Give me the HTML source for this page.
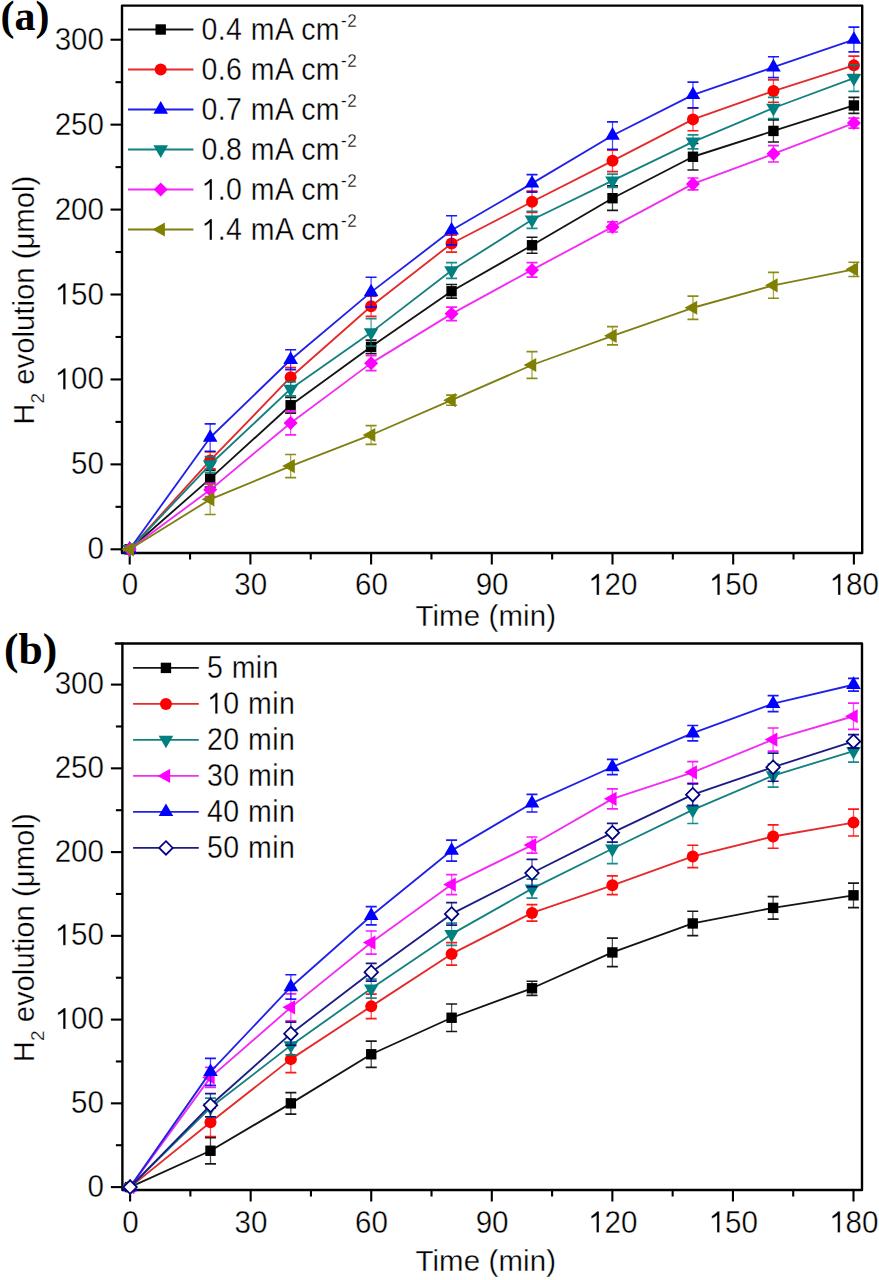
<!DOCTYPE html>
<html><head><meta charset="utf-8"><style>
html,body{margin:0;padding:0;background:#fff;}
svg{display:block;}
.tk{font-family:"Liberation Sans",sans-serif;font-size:29px;fill:#000;stroke:#fff;stroke-width:0.35px;}
.ti{font-family:"Liberation Sans",sans-serif;font-size:29.4px;letter-spacing:0.15px;fill:#000;stroke:#fff;stroke-width:0.3px;}
.yt{letter-spacing:0px;font-size:29.3px;}
.sub{font-size:19px;}
.sup{font-size:17px;letter-spacing:0.5px;}
.lg{font-family:"Liberation Sans",sans-serif;font-size:28.5px;letter-spacing:0.45px;fill:#000;stroke:#fff;stroke-width:0.3px;}
.lab{font-family:"Liberation Serif",serif;font-size:42px;font-weight:bold;fill:#000;}
</style></head><body>
<svg width="879" height="1280" viewBox="0 0 879 1280">
<rect width="879" height="1280" fill="#fff"/>
<rect x="122.00" y="5.60" width="740.20" height="547.40" fill="none" stroke="#000" stroke-width="2.4" stroke-linejoin="round"/>
<line x1="129.70" y1="553.00" x2="129.70" y2="564.50" stroke="#000" stroke-width="2.1"/>
<g transform="translate(130.00,595.00) scale(1.02,1.06)"><text x="-8.064" y="0" class="tk">0</text></g>
<line x1="250.40" y1="553.00" x2="250.40" y2="564.50" stroke="#000" stroke-width="2.1"/>
<g transform="translate(250.70,595.00) scale(1.02,1.06)"><text x="-16.128" y="0" class="tk">30</text></g>
<line x1="371.10" y1="553.00" x2="371.10" y2="564.50" stroke="#000" stroke-width="2.1"/>
<g transform="translate(371.40,595.00) scale(1.02,1.06)"><text x="-16.128" y="0" class="tk">60</text></g>
<line x1="491.80" y1="553.00" x2="491.80" y2="564.50" stroke="#000" stroke-width="2.1"/>
<g transform="translate(492.10,595.00) scale(1.02,1.06)"><text x="-16.128" y="0" class="tk">90</text></g>
<line x1="612.50" y1="553.00" x2="612.50" y2="564.50" stroke="#000" stroke-width="2.1"/>
<g transform="translate(612.80,595.00) scale(1.02,1.06)"><text x="-24.193" y="0" class="tk"> 20</text><path transform="translate(-24.193,0) scale(0.01416,-0.01416)" d="M763 0L583 0L583 1147Q518 1085 412 1023Q306 961 223 930L223 1104Q373 1175 485 1276Q597 1377 644 1409L763 1409Z" fill="#000" stroke="#fff" stroke-width="24.7"/></g>
<line x1="733.19" y1="553.00" x2="733.19" y2="564.50" stroke="#000" stroke-width="2.1"/>
<g transform="translate(733.49,595.00) scale(1.02,1.06)"><text x="-24.193" y="0" class="tk"> 50</text><path transform="translate(-24.193,0) scale(0.01416,-0.01416)" d="M763 0L583 0L583 1147Q518 1085 412 1023Q306 961 223 930L223 1104Q373 1175 485 1276Q597 1377 644 1409L763 1409Z" fill="#000" stroke="#fff" stroke-width="24.7"/></g>
<line x1="853.89" y1="553.00" x2="853.89" y2="564.50" stroke="#000" stroke-width="2.1"/>
<g transform="translate(854.19,595.00) scale(1.02,1.06)"><text x="-24.193" y="0" class="tk"> 80</text><path transform="translate(-24.193,0) scale(0.01416,-0.01416)" d="M763 0L583 0L583 1147Q518 1085 412 1023Q306 961 223 930L223 1104Q373 1175 485 1276Q597 1377 644 1409L763 1409Z" fill="#000" stroke="#fff" stroke-width="24.7"/></g>
<line x1="190.05" y1="553.00" x2="190.05" y2="559.50" stroke="#000" stroke-width="2.1"/>
<line x1="310.75" y1="553.00" x2="310.75" y2="559.50" stroke="#000" stroke-width="2.1"/>
<line x1="431.45" y1="553.00" x2="431.45" y2="559.50" stroke="#000" stroke-width="2.1"/>
<line x1="552.15" y1="553.00" x2="552.15" y2="559.50" stroke="#000" stroke-width="2.1"/>
<line x1="672.85" y1="553.00" x2="672.85" y2="559.50" stroke="#000" stroke-width="2.1"/>
<line x1="793.54" y1="553.00" x2="793.54" y2="559.50" stroke="#000" stroke-width="2.1"/>
<line x1="122.00" y1="549.30" x2="110.50" y2="549.30" stroke="#000" stroke-width="2.1"/>
<g transform="translate(104.00,559.30) scale(1.02,1.06)"><text x="-16.128" y="0" class="tk">0</text></g>
<line x1="122.00" y1="464.37" x2="110.50" y2="464.37" stroke="#000" stroke-width="2.1"/>
<g transform="translate(104.00,474.37) scale(1.02,1.06)"><text x="-32.257" y="0" class="tk">50</text></g>
<line x1="122.00" y1="379.44" x2="110.50" y2="379.44" stroke="#000" stroke-width="2.1"/>
<g transform="translate(104.00,389.44) scale(1.02,1.06)"><text x="-48.385" y="0" class="tk"> 00</text><path transform="translate(-48.385,0) scale(0.01416,-0.01416)" d="M763 0L583 0L583 1147Q518 1085 412 1023Q306 961 223 930L223 1104Q373 1175 485 1276Q597 1377 644 1409L763 1409Z" fill="#000" stroke="#fff" stroke-width="24.7"/></g>
<line x1="122.00" y1="294.51" x2="110.50" y2="294.51" stroke="#000" stroke-width="2.1"/>
<g transform="translate(104.00,304.51) scale(1.02,1.06)"><text x="-48.385" y="0" class="tk"> 50</text><path transform="translate(-48.385,0) scale(0.01416,-0.01416)" d="M763 0L583 0L583 1147Q518 1085 412 1023Q306 961 223 930L223 1104Q373 1175 485 1276Q597 1377 644 1409L763 1409Z" fill="#000" stroke="#fff" stroke-width="24.7"/></g>
<line x1="122.00" y1="209.58" x2="110.50" y2="209.58" stroke="#000" stroke-width="2.1"/>
<g transform="translate(104.00,219.58) scale(1.02,1.06)"><text x="-48.385" y="0" class="tk">200</text></g>
<line x1="122.00" y1="124.65" x2="110.50" y2="124.65" stroke="#000" stroke-width="2.1"/>
<g transform="translate(104.00,134.65) scale(1.02,1.06)"><text x="-48.385" y="0" class="tk">250</text></g>
<line x1="122.00" y1="39.72" x2="110.50" y2="39.72" stroke="#000" stroke-width="2.1"/>
<g transform="translate(104.00,49.72) scale(1.02,1.06)"><text x="-48.385" y="0" class="tk">300</text></g>
<line x1="122.00" y1="506.83" x2="115.50" y2="506.83" stroke="#000" stroke-width="2.1"/>
<line x1="122.00" y1="421.90" x2="115.50" y2="421.90" stroke="#000" stroke-width="2.1"/>
<line x1="122.00" y1="336.97" x2="115.50" y2="336.97" stroke="#000" stroke-width="2.1"/>
<line x1="122.00" y1="252.04" x2="115.50" y2="252.04" stroke="#000" stroke-width="2.1"/>
<line x1="122.00" y1="167.11" x2="115.50" y2="167.11" stroke="#000" stroke-width="2.1"/>
<line x1="122.00" y1="82.18" x2="115.50" y2="82.18" stroke="#000" stroke-width="2.1"/>
<text x="485.8" y="625.50" class="ti" text-anchor="middle">Time (min)</text>
<text transform="translate(33.60,300.20) rotate(-90)" class="ti yt" text-anchor="middle">H<tspan class="sub" dy="10.5">2</tspan><tspan dy="-10.5"> evolution (μmol)</tspan></text>
<text x="0.50" y="30.00" class="lab" style="font-size:42px">(a)</text>
<polyline points="129.70,549.30 210.17,478.64 290.63,405.26 371.10,346.83 451.56,291.28 532.03,245.25 612.50,198.20 692.96,156.75 773.43,130.93 853.89,105.46" fill="none" stroke="#141414" stroke-width="1.85" stroke-linejoin="round"/>
<path d="M210.17 470.15V487.13" stroke="#000000" stroke-width="1.3" stroke-opacity="0.7" fill="none"/>
<path d="M204.67 470.15H215.67M204.67 487.13H215.67" stroke="#000000" stroke-width="1.7" stroke-opacity="0.9" fill="none"/>
<path d="M290.63 397.45V413.07" stroke="#000000" stroke-width="1.3" stroke-opacity="0.7" fill="none"/>
<path d="M285.13 397.45H296.13M285.13 413.07H296.13" stroke="#000000" stroke-width="1.7" stroke-opacity="0.9" fill="none"/>
<path d="M371.10 340.03V353.62" stroke="#000000" stroke-width="1.3" stroke-opacity="0.7" fill="none"/>
<path d="M365.60 340.03H376.60M365.60 353.62H376.60" stroke="#000000" stroke-width="1.7" stroke-opacity="0.9" fill="none"/>
<path d="M451.56 284.49V298.08" stroke="#000000" stroke-width="1.3" stroke-opacity="0.7" fill="none"/>
<path d="M446.06 284.49H457.06M446.06 298.08H457.06" stroke="#000000" stroke-width="1.7" stroke-opacity="0.9" fill="none"/>
<path d="M532.03 237.27V253.23" stroke="#000000" stroke-width="1.3" stroke-opacity="0.7" fill="none"/>
<path d="M526.53 237.27H537.53M526.53 253.23H537.53" stroke="#000000" stroke-width="1.7" stroke-opacity="0.9" fill="none"/>
<path d="M612.50 185.97V210.43" stroke="#000000" stroke-width="1.3" stroke-opacity="0.7" fill="none"/>
<path d="M607.00 185.97H618.00M607.00 210.43H618.00" stroke="#000000" stroke-width="1.7" stroke-opacity="0.9" fill="none"/>
<path d="M692.96 143.50V170.00" stroke="#000000" stroke-width="1.3" stroke-opacity="0.7" fill="none"/>
<path d="M687.46 143.50H698.46M687.46 170.00H698.46" stroke="#000000" stroke-width="1.7" stroke-opacity="0.9" fill="none"/>
<path d="M773.43 119.89V141.98" stroke="#000000" stroke-width="1.3" stroke-opacity="0.7" fill="none"/>
<path d="M767.93 119.89H778.93M767.93 141.98H778.93" stroke="#000000" stroke-width="1.7" stroke-opacity="0.9" fill="none"/>
<path d="M853.89 97.47V113.44" stroke="#000000" stroke-width="1.3" stroke-opacity="0.7" fill="none"/>
<path d="M848.39 97.47H859.39M848.39 113.44H859.39" stroke="#000000" stroke-width="1.7" stroke-opacity="0.9" fill="none"/>
<rect x="124.50" y="544.10" width="10.40" height="10.40" fill="#000000"/>
<rect x="204.97" y="473.44" width="10.40" height="10.40" fill="#000000"/>
<rect x="285.43" y="400.06" width="10.40" height="10.40" fill="#000000"/>
<rect x="365.90" y="341.63" width="10.40" height="10.40" fill="#000000"/>
<rect x="446.36" y="286.08" width="10.40" height="10.40" fill="#000000"/>
<rect x="526.83" y="240.05" width="10.40" height="10.40" fill="#000000"/>
<rect x="607.30" y="193.00" width="10.40" height="10.40" fill="#000000"/>
<rect x="687.76" y="151.55" width="10.40" height="10.40" fill="#000000"/>
<rect x="768.23" y="125.73" width="10.40" height="10.40" fill="#000000"/>
<rect x="848.69" y="100.26" width="10.40" height="10.40" fill="#000000"/>
<polyline points="129.70,549.30 210.17,460.46 290.63,377.23 371.10,306.23 451.56,243.55 532.03,201.77 612.50,160.83 692.96,119.38 773.43,91.02 853.89,65.37" fill="none" stroke="#e42a2a" stroke-width="1.85" stroke-linejoin="round"/>
<path d="M210.17 451.97V468.96" stroke="#ff0000" stroke-width="1.3" stroke-opacity="0.7" fill="none"/>
<path d="M204.67 451.97H215.67M204.67 468.96H215.67" stroke="#ff0000" stroke-width="1.7" stroke-opacity="0.9" fill="none"/>
<path d="M290.63 367.55V386.91" stroke="#ff0000" stroke-width="1.3" stroke-opacity="0.7" fill="none"/>
<path d="M285.13 367.55H296.13M285.13 386.91H296.13" stroke="#ff0000" stroke-width="1.7" stroke-opacity="0.9" fill="none"/>
<path d="M371.10 296.04V316.42" stroke="#ff0000" stroke-width="1.3" stroke-opacity="0.7" fill="none"/>
<path d="M365.60 296.04H376.60M365.60 316.42H376.60" stroke="#ff0000" stroke-width="1.7" stroke-opacity="0.9" fill="none"/>
<path d="M451.56 235.06V252.04" stroke="#ff0000" stroke-width="1.3" stroke-opacity="0.7" fill="none"/>
<path d="M446.06 235.06H457.06M446.06 252.04H457.06" stroke="#ff0000" stroke-width="1.7" stroke-opacity="0.9" fill="none"/>
<path d="M532.03 191.07V212.47" stroke="#ff0000" stroke-width="1.3" stroke-opacity="0.7" fill="none"/>
<path d="M526.53 191.07H537.53M526.53 212.47H537.53" stroke="#ff0000" stroke-width="1.7" stroke-opacity="0.9" fill="none"/>
<path d="M612.50 150.13V171.53" stroke="#ff0000" stroke-width="1.3" stroke-opacity="0.7" fill="none"/>
<path d="M607.00 150.13H618.00M607.00 171.53H618.00" stroke="#ff0000" stroke-width="1.7" stroke-opacity="0.9" fill="none"/>
<path d="M692.96 108.00V130.76" stroke="#ff0000" stroke-width="1.3" stroke-opacity="0.7" fill="none"/>
<path d="M687.46 108.00H698.46M687.46 130.76H698.46" stroke="#ff0000" stroke-width="1.7" stroke-opacity="0.9" fill="none"/>
<path d="M773.43 79.81V102.23" stroke="#ff0000" stroke-width="1.3" stroke-opacity="0.7" fill="none"/>
<path d="M767.93 79.81H778.93M767.93 102.23H778.93" stroke="#ff0000" stroke-width="1.7" stroke-opacity="0.9" fill="none"/>
<path d="M853.89 56.03V74.71" stroke="#ff0000" stroke-width="1.3" stroke-opacity="0.7" fill="none"/>
<path d="M848.39 56.03H859.39M848.39 74.71H859.39" stroke="#ff0000" stroke-width="1.7" stroke-opacity="0.9" fill="none"/>
<circle cx="129.70" cy="549.30" r="6.00" fill="#ff0000"/>
<circle cx="210.17" cy="460.46" r="6.00" fill="#ff0000"/>
<circle cx="290.63" cy="377.23" r="6.00" fill="#ff0000"/>
<circle cx="371.10" cy="306.23" r="6.00" fill="#ff0000"/>
<circle cx="451.56" cy="243.55" r="6.00" fill="#ff0000"/>
<circle cx="532.03" cy="201.77" r="6.00" fill="#ff0000"/>
<circle cx="612.50" cy="160.83" r="6.00" fill="#ff0000"/>
<circle cx="692.96" cy="119.38" r="6.00" fill="#ff0000"/>
<circle cx="773.43" cy="91.02" r="6.00" fill="#ff0000"/>
<circle cx="853.89" cy="65.37" r="6.00" fill="#ff0000"/>
<polyline points="129.70,549.30 210.17,437.53 290.63,359.74 371.10,292.13 451.56,230.30 532.03,183.42 612.50,135.52 692.96,94.92 773.43,67.24 853.89,39.55" fill="none" stroke="#2222e6" stroke-width="1.85" stroke-linejoin="round"/>
<path d="M210.17 423.82V451.24" stroke="#0000ff" stroke-width="1.3" stroke-opacity="0.7" fill="none"/>
<path d="M204.67 423.82H215.67M204.67 451.24H215.67" stroke="#0000ff" stroke-width="1.7" stroke-opacity="0.9" fill="none"/>
<path d="M290.63 349.77V369.71" stroke="#0000ff" stroke-width="1.3" stroke-opacity="0.7" fill="none"/>
<path d="M285.13 349.77H296.13M285.13 369.71H296.13" stroke="#0000ff" stroke-width="1.7" stroke-opacity="0.9" fill="none"/>
<path d="M371.10 277.24V307.03" stroke="#0000ff" stroke-width="1.3" stroke-opacity="0.7" fill="none"/>
<path d="M365.60 277.24H376.60M365.60 307.03H376.60" stroke="#0000ff" stroke-width="1.7" stroke-opacity="0.9" fill="none"/>
<path d="M451.56 215.75V244.86" stroke="#0000ff" stroke-width="1.3" stroke-opacity="0.7" fill="none"/>
<path d="M446.06 215.75H457.06M446.06 244.86H457.06" stroke="#0000ff" stroke-width="1.7" stroke-opacity="0.9" fill="none"/>
<path d="M532.03 174.64V192.20" stroke="#0000ff" stroke-width="1.3" stroke-opacity="0.7" fill="none"/>
<path d="M526.53 174.64H537.53M526.53 192.20H537.53" stroke="#0000ff" stroke-width="1.7" stroke-opacity="0.9" fill="none"/>
<path d="M612.50 121.81V149.23" stroke="#0000ff" stroke-width="1.3" stroke-opacity="0.7" fill="none"/>
<path d="M607.00 121.81H618.00M607.00 149.23H618.00" stroke="#0000ff" stroke-width="1.7" stroke-opacity="0.9" fill="none"/>
<path d="M692.96 82.07V107.78" stroke="#0000ff" stroke-width="1.3" stroke-opacity="0.7" fill="none"/>
<path d="M687.46 82.07H698.46M687.46 107.78H698.46" stroke="#0000ff" stroke-width="1.7" stroke-opacity="0.9" fill="none"/>
<path d="M773.43 56.76V77.72" stroke="#0000ff" stroke-width="1.3" stroke-opacity="0.7" fill="none"/>
<path d="M767.93 56.76H778.93M767.93 77.72H778.93" stroke="#0000ff" stroke-width="1.7" stroke-opacity="0.9" fill="none"/>
<path d="M853.89 27.20V51.90" stroke="#0000ff" stroke-width="1.3" stroke-opacity="0.7" fill="none"/>
<path d="M848.39 27.20H859.39M848.39 51.90H859.39" stroke="#0000ff" stroke-width="1.7" stroke-opacity="0.9" fill="none"/>
<polygon points="122.40,553.50 137.00,553.50 129.70,540.90" fill="#0000ff"/>
<polygon points="202.87,441.73 217.47,441.73 210.17,429.13" fill="#0000ff"/>
<polygon points="283.33,363.94 297.93,363.94 290.63,351.34" fill="#0000ff"/>
<polygon points="363.80,296.33 378.40,296.33 371.10,283.73" fill="#0000ff"/>
<polygon points="444.26,234.50 458.86,234.50 451.56,221.90" fill="#0000ff"/>
<polygon points="524.73,187.62 539.33,187.62 532.03,175.02" fill="#0000ff"/>
<polygon points="605.20,139.72 619.80,139.72 612.50,127.12" fill="#0000ff"/>
<polygon points="685.66,99.12 700.26,99.12 692.96,86.52" fill="#0000ff"/>
<polygon points="766.13,71.44 780.73,71.44 773.43,58.84" fill="#0000ff"/>
<polygon points="846.59,43.75 861.19,43.75 853.89,31.15" fill="#0000ff"/>
<polyline points="129.70,549.30 210.17,464.54 290.63,388.95 371.10,332.39 451.56,270.56 532.03,219.77 612.50,180.70 692.96,141.81 773.43,108.00 853.89,78.11" fill="none" stroke="#148080" stroke-width="1.85" stroke-linejoin="round"/>
<path d="M210.17 456.68V472.40" stroke="#008080" stroke-width="1.3" stroke-opacity="0.7" fill="none"/>
<path d="M204.67 456.68H215.67M204.67 472.40H215.67" stroke="#008080" stroke-width="1.7" stroke-opacity="0.9" fill="none"/>
<path d="M290.63 381.94V395.97" stroke="#008080" stroke-width="1.3" stroke-opacity="0.7" fill="none"/>
<path d="M285.13 381.94H296.13M285.13 395.97H296.13" stroke="#008080" stroke-width="1.7" stroke-opacity="0.9" fill="none"/>
<path d="M371.10 318.58V346.20" stroke="#008080" stroke-width="1.3" stroke-opacity="0.7" fill="none"/>
<path d="M365.60 318.58H376.60M365.60 346.20H376.60" stroke="#008080" stroke-width="1.7" stroke-opacity="0.9" fill="none"/>
<path d="M451.56 262.70V278.42" stroke="#008080" stroke-width="1.3" stroke-opacity="0.7" fill="none"/>
<path d="M446.06 262.70H457.06M446.06 278.42H457.06" stroke="#008080" stroke-width="1.7" stroke-opacity="0.9" fill="none"/>
<path d="M532.03 211.23V228.32" stroke="#008080" stroke-width="1.3" stroke-opacity="0.7" fill="none"/>
<path d="M526.53 211.23H537.53M526.53 228.32H537.53" stroke="#008080" stroke-width="1.7" stroke-opacity="0.9" fill="none"/>
<path d="M612.50 174.03V187.38" stroke="#008080" stroke-width="1.3" stroke-opacity="0.7" fill="none"/>
<path d="M607.00 174.03H618.00M607.00 187.38H618.00" stroke="#008080" stroke-width="1.7" stroke-opacity="0.9" fill="none"/>
<path d="M692.96 134.79V148.82" stroke="#008080" stroke-width="1.3" stroke-opacity="0.7" fill="none"/>
<path d="M687.46 134.79H698.46M687.46 148.82H698.46" stroke="#008080" stroke-width="1.7" stroke-opacity="0.9" fill="none"/>
<path d="M773.43 97.42V118.59" stroke="#008080" stroke-width="1.3" stroke-opacity="0.7" fill="none"/>
<path d="M767.93 97.42H778.93M767.93 118.59H778.93" stroke="#008080" stroke-width="1.7" stroke-opacity="0.9" fill="none"/>
<path d="M853.89 64.81V91.41" stroke="#008080" stroke-width="1.3" stroke-opacity="0.7" fill="none"/>
<path d="M848.39 64.81H859.39M848.39 91.41H859.39" stroke="#008080" stroke-width="1.7" stroke-opacity="0.9" fill="none"/>
<polygon points="122.40,545.10 137.00,545.10 129.70,557.70" fill="#008080"/>
<polygon points="202.87,460.34 217.47,460.34 210.17,472.94" fill="#008080"/>
<polygon points="283.33,384.75 297.93,384.75 290.63,397.35" fill="#008080"/>
<polygon points="363.80,328.19 378.40,328.19 371.10,340.79" fill="#008080"/>
<polygon points="444.26,266.36 458.86,266.36 451.56,278.96" fill="#008080"/>
<polygon points="524.73,215.57 539.33,215.57 532.03,228.17" fill="#008080"/>
<polygon points="605.20,176.50 619.80,176.50 612.50,189.10" fill="#008080"/>
<polygon points="685.66,137.61 700.26,137.61 692.96,150.21" fill="#008080"/>
<polygon points="766.13,103.80 780.73,103.80 773.43,116.40" fill="#008080"/>
<polygon points="846.59,73.91 861.19,73.91 853.89,86.51" fill="#008080"/>
<polyline points="129.70,549.30 210.17,489.85 290.63,422.92 371.10,363.13 451.56,313.87 532.03,269.88 612.50,226.91 692.96,183.93 773.43,153.87 853.89,123.12" fill="none" stroke="#f22cf2" stroke-width="1.85" stroke-linejoin="round"/>
<path d="M210.17 483.05V496.64" stroke="#ff00ff" stroke-width="1.3" stroke-opacity="0.7" fill="none"/>
<path d="M204.67 483.05H215.67M204.67 496.64H215.67" stroke="#ff00ff" stroke-width="1.7" stroke-opacity="0.9" fill="none"/>
<path d="M290.63 411.03V434.81" stroke="#ff00ff" stroke-width="1.3" stroke-opacity="0.7" fill="none"/>
<path d="M285.13 411.03H296.13M285.13 434.81H296.13" stroke="#ff00ff" stroke-width="1.7" stroke-opacity="0.9" fill="none"/>
<path d="M371.10 355.66V370.61" stroke="#ff00ff" stroke-width="1.3" stroke-opacity="0.7" fill="none"/>
<path d="M365.60 355.66H376.60M365.60 370.61H376.60" stroke="#ff00ff" stroke-width="1.7" stroke-opacity="0.9" fill="none"/>
<path d="M451.56 307.08V320.67" stroke="#ff00ff" stroke-width="1.3" stroke-opacity="0.7" fill="none"/>
<path d="M446.06 307.08H457.06M446.06 320.67H457.06" stroke="#ff00ff" stroke-width="1.7" stroke-opacity="0.9" fill="none"/>
<path d="M532.03 262.58V277.18" stroke="#ff00ff" stroke-width="1.3" stroke-opacity="0.7" fill="none"/>
<path d="M526.53 262.58H537.53M526.53 277.18H537.53" stroke="#ff00ff" stroke-width="1.7" stroke-opacity="0.9" fill="none"/>
<path d="M612.50 221.81V232.00" stroke="#ff00ff" stroke-width="1.3" stroke-opacity="0.7" fill="none"/>
<path d="M607.00 221.81H618.00M607.00 232.00H618.00" stroke="#ff00ff" stroke-width="1.7" stroke-opacity="0.9" fill="none"/>
<path d="M692.96 177.99V189.88" stroke="#ff00ff" stroke-width="1.3" stroke-opacity="0.7" fill="none"/>
<path d="M687.46 177.99H698.46M687.46 189.88H698.46" stroke="#ff00ff" stroke-width="1.7" stroke-opacity="0.9" fill="none"/>
<path d="M773.43 145.71V162.02" stroke="#ff00ff" stroke-width="1.3" stroke-opacity="0.7" fill="none"/>
<path d="M767.93 145.71H778.93M767.93 162.02H778.93" stroke="#ff00ff" stroke-width="1.7" stroke-opacity="0.9" fill="none"/>
<path d="M853.89 118.03V128.22" stroke="#ff00ff" stroke-width="1.3" stroke-opacity="0.7" fill="none"/>
<path d="M848.39 118.03H859.39M848.39 128.22H859.39" stroke="#ff00ff" stroke-width="1.7" stroke-opacity="0.9" fill="none"/>
<polygon points="129.70,542.30 136.70,549.30 129.70,556.30 122.70,549.30" fill="#ff00ff"/>
<polygon points="210.17,482.85 217.17,489.85 210.17,496.85 203.17,489.85" fill="#ff00ff"/>
<polygon points="290.63,415.92 297.63,422.92 290.63,429.92 283.63,422.92" fill="#ff00ff"/>
<polygon points="371.10,356.13 378.10,363.13 371.10,370.13 364.10,363.13" fill="#ff00ff"/>
<polygon points="451.56,306.87 458.56,313.87 451.56,320.87 444.56,313.87" fill="#ff00ff"/>
<polygon points="532.03,262.88 539.03,269.88 532.03,276.88 525.03,269.88" fill="#ff00ff"/>
<polygon points="612.50,219.91 619.50,226.91 612.50,233.91 605.50,226.91" fill="#ff00ff"/>
<polygon points="692.96,176.93 699.96,183.93 692.96,190.93 685.96,183.93" fill="#ff00ff"/>
<polygon points="773.43,146.87 780.43,153.87 773.43,160.87 766.43,153.87" fill="#ff00ff"/>
<polygon points="853.89,116.12 860.89,123.12 853.89,130.12 846.89,123.12" fill="#ff00ff"/>
<polyline points="129.70,549.30 210.17,499.36 290.63,466.07 371.10,434.98 451.56,400.16 532.03,365.00 612.50,335.79 692.96,307.76 773.43,285.34 853.89,269.37" fill="none" stroke="#7f7f14" stroke-width="1.85" stroke-linejoin="round"/>
<path d="M210.17 484.24V514.48" stroke="#808000" stroke-width="1.3" stroke-opacity="0.7" fill="none"/>
<path d="M204.67 484.24H215.67M204.67 514.48H215.67" stroke="#808000" stroke-width="1.7" stroke-opacity="0.9" fill="none"/>
<path d="M290.63 454.52V477.62" stroke="#808000" stroke-width="1.3" stroke-opacity="0.7" fill="none"/>
<path d="M285.13 454.52H296.13M285.13 477.62H296.13" stroke="#808000" stroke-width="1.7" stroke-opacity="0.9" fill="none"/>
<path d="M371.10 425.64V444.33" stroke="#808000" stroke-width="1.3" stroke-opacity="0.7" fill="none"/>
<path d="M365.60 425.64H376.60M365.60 444.33H376.60" stroke="#808000" stroke-width="1.7" stroke-opacity="0.9" fill="none"/>
<path d="M451.56 395.07V405.26" stroke="#808000" stroke-width="1.3" stroke-opacity="0.7" fill="none"/>
<path d="M446.06 395.07H457.06M446.06 405.26H457.06" stroke="#808000" stroke-width="1.7" stroke-opacity="0.9" fill="none"/>
<path d="M532.03 351.58V378.42" stroke="#808000" stroke-width="1.3" stroke-opacity="0.7" fill="none"/>
<path d="M526.53 351.58H537.53M526.53 378.42H537.53" stroke="#808000" stroke-width="1.7" stroke-opacity="0.9" fill="none"/>
<path d="M612.50 326.61V344.96" stroke="#808000" stroke-width="1.3" stroke-opacity="0.7" fill="none"/>
<path d="M607.00 326.61H618.00M607.00 344.96H618.00" stroke="#808000" stroke-width="1.7" stroke-opacity="0.9" fill="none"/>
<path d="M692.96 296.21V319.31" stroke="#808000" stroke-width="1.3" stroke-opacity="0.7" fill="none"/>
<path d="M687.46 296.21H698.46M687.46 319.31H698.46" stroke="#808000" stroke-width="1.7" stroke-opacity="0.9" fill="none"/>
<path d="M773.43 272.43V298.25" stroke="#808000" stroke-width="1.3" stroke-opacity="0.7" fill="none"/>
<path d="M767.93 272.43H778.93M767.93 298.25H778.93" stroke="#808000" stroke-width="1.7" stroke-opacity="0.9" fill="none"/>
<path d="M853.89 262.24V276.50" stroke="#808000" stroke-width="1.3" stroke-opacity="0.7" fill="none"/>
<path d="M848.39 262.24H859.39M848.39 276.50H859.39" stroke="#808000" stroke-width="1.7" stroke-opacity="0.9" fill="none"/>
<polygon points="133.90,542.20 133.90,556.40 121.30,549.30" fill="#808000"/>
<polygon points="214.37,492.26 214.37,506.46 201.77,499.36" fill="#808000"/>
<polygon points="294.83,458.97 294.83,473.17 282.23,466.07" fill="#808000"/>
<polygon points="375.30,427.88 375.30,442.08 362.70,434.98" fill="#808000"/>
<polygon points="455.76,393.06 455.76,407.26 443.16,400.16" fill="#808000"/>
<polygon points="536.23,357.90 536.23,372.10 523.63,365.00" fill="#808000"/>
<polygon points="616.70,328.69 616.70,342.89 604.10,335.79" fill="#808000"/>
<polygon points="697.16,300.66 697.16,314.86 684.56,307.76" fill="#808000"/>
<polygon points="777.63,278.24 777.63,292.44 765.03,285.34" fill="#808000"/>
<polygon points="858.09,262.27 858.09,276.47 845.49,269.37" fill="#808000"/>
<line x1="128.00" y1="29.50" x2="193.40" y2="29.50" stroke="#141414" stroke-width="1.8"/>
<rect x="155.50" y="24.30" width="10.40" height="10.40" fill="#000000"/>
<g transform="translate(201.40,39.90) scale(1,1.07)"><text x="0.000" y="0" class="lg">0.4 mA cm<tspan class="sup" dx="1" dy="-12.3">-2</tspan></text></g>
<line x1="128.00" y1="69.50" x2="193.40" y2="69.50" stroke="#e42a2a" stroke-width="1.8"/>
<circle cx="160.70" cy="69.50" r="6.00" fill="#ff0000"/>
<g transform="translate(201.40,79.90) scale(1,1.07)"><text x="0.000" y="0" class="lg">0.6 mA cm<tspan class="sup" dx="1" dy="-12.3">-2</tspan></text></g>
<line x1="128.00" y1="109.50" x2="193.40" y2="109.50" stroke="#2222e6" stroke-width="1.8"/>
<polygon points="153.40,113.70 168.00,113.70 160.70,101.10" fill="#0000ff"/>
<g transform="translate(201.40,119.90) scale(1,1.07)"><text x="0.000" y="0" class="lg">0.7 mA cm<tspan class="sup" dx="1" dy="-12.3">-2</tspan></text></g>
<line x1="128.00" y1="149.50" x2="193.40" y2="149.50" stroke="#148080" stroke-width="1.8"/>
<polygon points="153.40,145.30 168.00,145.30 160.70,157.90" fill="#008080"/>
<g transform="translate(201.40,159.90) scale(1,1.07)"><text x="0.000" y="0" class="lg">0.8 mA cm<tspan class="sup" dx="1" dy="-12.3">-2</tspan></text></g>
<line x1="128.00" y1="189.50" x2="193.40" y2="189.50" stroke="#f22cf2" stroke-width="1.8"/>
<polygon points="160.70,182.50 167.70,189.50 160.70,196.50 153.70,189.50" fill="#ff00ff"/>
<g transform="translate(201.40,199.90) scale(1,1.07)"><text x="0.000" y="0" class="lg"> .0 mA cm<tspan class="sup" dx="1" dy="-12.3">-2</tspan></text><path transform="translate(0.000,0) scale(0.01392,-0.01392)" d="M763 0L583 0L583 1147Q518 1085 412 1023Q306 961 223 930L223 1104Q373 1175 485 1276Q597 1377 644 1409L763 1409Z" fill="#000" stroke="#fff" stroke-width="25.2"/></g>
<line x1="128.00" y1="229.50" x2="193.40" y2="229.50" stroke="#7f7f14" stroke-width="1.8"/>
<polygon points="164.90,222.40 164.90,236.60 152.30,229.50" fill="#808000"/>
<g transform="translate(201.40,239.90) scale(1,1.07)"><text x="0.000" y="0" class="lg"> .4 mA cm<tspan class="sup" dx="1" dy="-12.3">-2</tspan></text><path transform="translate(0.000,0) scale(0.01392,-0.01392)" d="M763 0L583 0L583 1147Q518 1085 412 1023Q306 961 223 930L223 1104Q373 1175 485 1276Q597 1377 644 1409L763 1409Z" fill="#000" stroke="#fff" stroke-width="25.2"/></g>
<rect x="122.40" y="643.50" width="739.60" height="546.50" fill="none" stroke="#000" stroke-width="2.4" stroke-linejoin="round"/>
<line x1="130.10" y1="1190.00" x2="130.10" y2="1201.50" stroke="#000" stroke-width="2.1"/>
<g transform="translate(130.40,1232.50) scale(1.02,1.06)"><text x="-8.064" y="0" class="tk">0</text></g>
<line x1="250.67" y1="1190.00" x2="250.67" y2="1201.50" stroke="#000" stroke-width="2.1"/>
<g transform="translate(250.97,1232.50) scale(1.02,1.06)"><text x="-16.128" y="0" class="tk">30</text></g>
<line x1="371.23" y1="1190.00" x2="371.23" y2="1201.50" stroke="#000" stroke-width="2.1"/>
<g transform="translate(371.53,1232.50) scale(1.02,1.06)"><text x="-16.128" y="0" class="tk">60</text></g>
<line x1="491.80" y1="1190.00" x2="491.80" y2="1201.50" stroke="#000" stroke-width="2.1"/>
<g transform="translate(492.10,1232.50) scale(1.02,1.06)"><text x="-16.128" y="0" class="tk">90</text></g>
<line x1="612.37" y1="1190.00" x2="612.37" y2="1201.50" stroke="#000" stroke-width="2.1"/>
<g transform="translate(612.67,1232.50) scale(1.02,1.06)"><text x="-24.193" y="0" class="tk"> 20</text><path transform="translate(-24.193,0) scale(0.01416,-0.01416)" d="M763 0L583 0L583 1147Q518 1085 412 1023Q306 961 223 930L223 1104Q373 1175 485 1276Q597 1377 644 1409L763 1409Z" fill="#000" stroke="#fff" stroke-width="24.7"/></g>
<line x1="732.94" y1="1190.00" x2="732.94" y2="1201.50" stroke="#000" stroke-width="2.1"/>
<g transform="translate(733.24,1232.50) scale(1.02,1.06)"><text x="-24.193" y="0" class="tk"> 50</text><path transform="translate(-24.193,0) scale(0.01416,-0.01416)" d="M763 0L583 0L583 1147Q518 1085 412 1023Q306 961 223 930L223 1104Q373 1175 485 1276Q597 1377 644 1409L763 1409Z" fill="#000" stroke="#fff" stroke-width="24.7"/></g>
<line x1="853.50" y1="1190.00" x2="853.50" y2="1201.50" stroke="#000" stroke-width="2.1"/>
<g transform="translate(853.80,1232.50) scale(1.02,1.06)"><text x="-24.193" y="0" class="tk"> 80</text><path transform="translate(-24.193,0) scale(0.01416,-0.01416)" d="M763 0L583 0L583 1147Q518 1085 412 1023Q306 961 223 930L223 1104Q373 1175 485 1276Q597 1377 644 1409L763 1409Z" fill="#000" stroke="#fff" stroke-width="24.7"/></g>
<line x1="190.38" y1="1190.00" x2="190.38" y2="1196.50" stroke="#000" stroke-width="2.1"/>
<line x1="310.95" y1="1190.00" x2="310.95" y2="1196.50" stroke="#000" stroke-width="2.1"/>
<line x1="431.52" y1="1190.00" x2="431.52" y2="1196.50" stroke="#000" stroke-width="2.1"/>
<line x1="552.08" y1="1190.00" x2="552.08" y2="1196.50" stroke="#000" stroke-width="2.1"/>
<line x1="672.65" y1="1190.00" x2="672.65" y2="1196.50" stroke="#000" stroke-width="2.1"/>
<line x1="793.22" y1="1190.00" x2="793.22" y2="1196.50" stroke="#000" stroke-width="2.1"/>
<line x1="122.40" y1="1187.10" x2="110.90" y2="1187.10" stroke="#000" stroke-width="2.1"/>
<g transform="translate(104.00,1196.60) scale(1.02,1.06)"><text x="-16.128" y="0" class="tk">0</text></g>
<line x1="122.40" y1="1103.35" x2="110.90" y2="1103.35" stroke="#000" stroke-width="2.1"/>
<g transform="translate(104.00,1112.85) scale(1.02,1.06)"><text x="-32.257" y="0" class="tk">50</text></g>
<line x1="122.40" y1="1019.60" x2="110.90" y2="1019.60" stroke="#000" stroke-width="2.1"/>
<g transform="translate(104.00,1029.10) scale(1.02,1.06)"><text x="-48.385" y="0" class="tk"> 00</text><path transform="translate(-48.385,0) scale(0.01416,-0.01416)" d="M763 0L583 0L583 1147Q518 1085 412 1023Q306 961 223 930L223 1104Q373 1175 485 1276Q597 1377 644 1409L763 1409Z" fill="#000" stroke="#fff" stroke-width="24.7"/></g>
<line x1="122.40" y1="935.85" x2="110.90" y2="935.85" stroke="#000" stroke-width="2.1"/>
<g transform="translate(104.00,945.35) scale(1.02,1.06)"><text x="-48.385" y="0" class="tk"> 50</text><path transform="translate(-48.385,0) scale(0.01416,-0.01416)" d="M763 0L583 0L583 1147Q518 1085 412 1023Q306 961 223 930L223 1104Q373 1175 485 1276Q597 1377 644 1409L763 1409Z" fill="#000" stroke="#fff" stroke-width="24.7"/></g>
<line x1="122.40" y1="852.10" x2="110.90" y2="852.10" stroke="#000" stroke-width="2.1"/>
<g transform="translate(104.00,861.60) scale(1.02,1.06)"><text x="-48.385" y="0" class="tk">200</text></g>
<line x1="122.40" y1="768.35" x2="110.90" y2="768.35" stroke="#000" stroke-width="2.1"/>
<g transform="translate(104.00,777.85) scale(1.02,1.06)"><text x="-48.385" y="0" class="tk">250</text></g>
<line x1="122.40" y1="684.60" x2="110.90" y2="684.60" stroke="#000" stroke-width="2.1"/>
<g transform="translate(104.00,694.10) scale(1.02,1.06)"><text x="-48.385" y="0" class="tk">300</text></g>
<line x1="122.40" y1="1145.22" x2="115.90" y2="1145.22" stroke="#000" stroke-width="2.1"/>
<line x1="122.40" y1="1061.47" x2="115.90" y2="1061.47" stroke="#000" stroke-width="2.1"/>
<line x1="122.40" y1="977.72" x2="115.90" y2="977.72" stroke="#000" stroke-width="2.1"/>
<line x1="122.40" y1="893.97" x2="115.90" y2="893.97" stroke="#000" stroke-width="2.1"/>
<line x1="122.40" y1="810.22" x2="115.90" y2="810.22" stroke="#000" stroke-width="2.1"/>
<line x1="122.40" y1="726.47" x2="115.90" y2="726.47" stroke="#000" stroke-width="2.1"/>
<text x="485.8" y="1271.00" class="ti" text-anchor="middle">Time (min)</text>
<text transform="translate(33.60,937.80) rotate(-90)" class="ti yt" text-anchor="middle">H<tspan class="sub" dy="10.5">2</tspan><tspan dy="-10.5"> evolution (μmol)</tspan></text>
<text x="4.00" y="664.00" class="lab" style="font-size:43.5px">(b)</text>
<line x1="115.90" y1="643.50" x2="122.40" y2="643.50" stroke="#000" stroke-width="2.4" stroke-linecap="round"/>
<polyline points="130.10,1187.10 210.48,1150.75 290.86,1103.35 371.23,1054.27 451.61,1017.76 531.99,988.28 612.37,952.43 692.75,923.45 773.12,907.88 853.50,895.31" fill="none" stroke="#141414" stroke-width="1.85" stroke-linejoin="round"/>
<path d="M210.48 1137.69V1163.82" stroke="#000000" stroke-width="1.3" stroke-opacity="0.7" fill="none"/>
<path d="M204.98 1137.69H215.98M204.98 1163.82H215.98" stroke="#000000" stroke-width="1.7" stroke-opacity="0.9" fill="none"/>
<path d="M290.86 1092.63V1114.07" stroke="#000000" stroke-width="1.3" stroke-opacity="0.7" fill="none"/>
<path d="M285.36 1092.63H296.36M285.36 1114.07H296.36" stroke="#000000" stroke-width="1.7" stroke-opacity="0.9" fill="none"/>
<path d="M371.23 1041.21V1067.34" stroke="#000000" stroke-width="1.3" stroke-opacity="0.7" fill="none"/>
<path d="M365.73 1041.21H376.73M365.73 1067.34H376.73" stroke="#000000" stroke-width="1.7" stroke-opacity="0.9" fill="none"/>
<path d="M451.61 1004.02V1031.49" stroke="#000000" stroke-width="1.3" stroke-opacity="0.7" fill="none"/>
<path d="M446.11 1004.02H457.11M446.11 1031.49H457.11" stroke="#000000" stroke-width="1.7" stroke-opacity="0.9" fill="none"/>
<path d="M531.99 981.24V995.31" stroke="#000000" stroke-width="1.3" stroke-opacity="0.7" fill="none"/>
<path d="M526.49 981.24H537.49M526.49 995.31H537.49" stroke="#000000" stroke-width="1.7" stroke-opacity="0.9" fill="none"/>
<path d="M612.37 938.19V966.67" stroke="#000000" stroke-width="1.3" stroke-opacity="0.7" fill="none"/>
<path d="M606.87 938.19H617.87M606.87 966.67H617.87" stroke="#000000" stroke-width="1.7" stroke-opacity="0.9" fill="none"/>
<path d="M692.75 911.23V935.68" stroke="#000000" stroke-width="1.3" stroke-opacity="0.7" fill="none"/>
<path d="M687.25 911.23H698.25M687.25 935.68H698.25" stroke="#000000" stroke-width="1.7" stroke-opacity="0.9" fill="none"/>
<path d="M773.12 896.65V919.10" stroke="#000000" stroke-width="1.3" stroke-opacity="0.7" fill="none"/>
<path d="M767.62 896.65H778.62M767.62 919.10H778.62" stroke="#000000" stroke-width="1.7" stroke-opacity="0.9" fill="none"/>
<path d="M853.50 883.09V907.54" stroke="#000000" stroke-width="1.3" stroke-opacity="0.7" fill="none"/>
<path d="M848.00 883.09H859.00M848.00 907.54H859.00" stroke="#000000" stroke-width="1.7" stroke-opacity="0.9" fill="none"/>
<rect x="124.90" y="1181.90" width="10.40" height="10.40" fill="#000000"/>
<rect x="205.28" y="1145.55" width="10.40" height="10.40" fill="#000000"/>
<rect x="285.66" y="1098.15" width="10.40" height="10.40" fill="#000000"/>
<rect x="366.03" y="1049.07" width="10.40" height="10.40" fill="#000000"/>
<rect x="446.41" y="1012.56" width="10.40" height="10.40" fill="#000000"/>
<rect x="526.79" y="983.08" width="10.40" height="10.40" fill="#000000"/>
<rect x="607.17" y="947.23" width="10.40" height="10.40" fill="#000000"/>
<rect x="687.55" y="918.25" width="10.40" height="10.40" fill="#000000"/>
<rect x="767.92" y="902.68" width="10.40" height="10.40" fill="#000000"/>
<rect x="848.30" y="890.11" width="10.40" height="10.40" fill="#000000"/>
<polyline points="130.10,1187.10 210.48,1122.28 290.86,1059.13 371.23,1006.37 451.61,953.94 531.99,912.90 612.37,885.26 692.75,856.45 773.12,836.52 853.50,822.62" fill="none" stroke="#e42a2a" stroke-width="1.85" stroke-linejoin="round"/>
<path d="M210.48 1108.04V1136.51" stroke="#ff0000" stroke-width="1.3" stroke-opacity="0.7" fill="none"/>
<path d="M204.98 1108.04H215.98M204.98 1136.51H215.98" stroke="#ff0000" stroke-width="1.7" stroke-opacity="0.9" fill="none"/>
<path d="M290.86 1045.56V1072.70" stroke="#ff0000" stroke-width="1.3" stroke-opacity="0.7" fill="none"/>
<path d="M285.36 1045.56H296.36M285.36 1072.70H296.36" stroke="#ff0000" stroke-width="1.7" stroke-opacity="0.9" fill="none"/>
<path d="M371.23 994.14V1018.59" stroke="#ff0000" stroke-width="1.3" stroke-opacity="0.7" fill="none"/>
<path d="M365.73 994.14H376.73M365.73 1018.59H376.73" stroke="#ff0000" stroke-width="1.7" stroke-opacity="0.9" fill="none"/>
<path d="M451.61 942.72V965.16" stroke="#ff0000" stroke-width="1.3" stroke-opacity="0.7" fill="none"/>
<path d="M446.11 942.72H457.11M446.11 965.16H457.11" stroke="#ff0000" stroke-width="1.7" stroke-opacity="0.9" fill="none"/>
<path d="M531.99 904.69V921.11" stroke="#ff0000" stroke-width="1.3" stroke-opacity="0.7" fill="none"/>
<path d="M526.49 904.69H537.49M526.49 921.11H537.49" stroke="#ff0000" stroke-width="1.7" stroke-opacity="0.9" fill="none"/>
<path d="M612.37 875.88V894.64" stroke="#ff0000" stroke-width="1.3" stroke-opacity="0.7" fill="none"/>
<path d="M606.87 875.88H617.87M606.87 894.64H617.87" stroke="#ff0000" stroke-width="1.7" stroke-opacity="0.9" fill="none"/>
<path d="M692.75 845.23V867.68" stroke="#ff0000" stroke-width="1.3" stroke-opacity="0.7" fill="none"/>
<path d="M687.25 845.23H698.25M687.25 867.68H698.25" stroke="#ff0000" stroke-width="1.7" stroke-opacity="0.9" fill="none"/>
<path d="M773.12 824.80V848.25" stroke="#ff0000" stroke-width="1.3" stroke-opacity="0.7" fill="none"/>
<path d="M767.62 824.80H778.62M767.62 848.25H778.62" stroke="#ff0000" stroke-width="1.7" stroke-opacity="0.9" fill="none"/>
<path d="M853.50 809.22V836.02" stroke="#ff0000" stroke-width="1.3" stroke-opacity="0.7" fill="none"/>
<path d="M848.00 809.22H859.00M848.00 836.02H859.00" stroke="#ff0000" stroke-width="1.7" stroke-opacity="0.9" fill="none"/>
<circle cx="130.10" cy="1187.10" r="6.00" fill="#ff0000"/>
<circle cx="210.48" cy="1122.28" r="6.00" fill="#ff0000"/>
<circle cx="290.86" cy="1059.13" r="6.00" fill="#ff0000"/>
<circle cx="371.23" cy="1006.37" r="6.00" fill="#ff0000"/>
<circle cx="451.61" cy="953.94" r="6.00" fill="#ff0000"/>
<circle cx="531.99" cy="912.90" r="6.00" fill="#ff0000"/>
<circle cx="612.37" cy="885.26" r="6.00" fill="#ff0000"/>
<circle cx="692.75" cy="856.45" r="6.00" fill="#ff0000"/>
<circle cx="773.12" cy="836.52" r="6.00" fill="#ff0000"/>
<circle cx="853.50" cy="822.62" r="6.00" fill="#ff0000"/>
<polyline points="130.10,1187.10 210.48,1107.54 290.86,1045.39 371.23,988.61 451.61,934.17 531.99,888.61 612.37,848.75 692.75,809.89 773.12,775.55 853.50,751.10" fill="none" stroke="#148080" stroke-width="1.85" stroke-linejoin="round"/>
<path d="M210.48 1098.11V1116.97" stroke="#008080" stroke-width="1.3" stroke-opacity="0.7" fill="none"/>
<path d="M204.98 1098.11H215.98M204.98 1116.97H215.98" stroke="#008080" stroke-width="1.7" stroke-opacity="0.9" fill="none"/>
<path d="M290.86 1035.96V1054.83" stroke="#008080" stroke-width="1.3" stroke-opacity="0.7" fill="none"/>
<path d="M285.36 1035.96H296.36M285.36 1054.83H296.36" stroke="#008080" stroke-width="1.7" stroke-opacity="0.9" fill="none"/>
<path d="M371.23 979.18V998.04" stroke="#008080" stroke-width="1.3" stroke-opacity="0.7" fill="none"/>
<path d="M365.73 979.18H376.73M365.73 998.04H376.73" stroke="#008080" stroke-width="1.7" stroke-opacity="0.9" fill="none"/>
<path d="M451.61 923.07V945.28" stroke="#008080" stroke-width="1.3" stroke-opacity="0.7" fill="none"/>
<path d="M446.11 923.07H457.11M446.11 945.28H457.11" stroke="#008080" stroke-width="1.7" stroke-opacity="0.9" fill="none"/>
<path d="M531.99 879.18V898.05" stroke="#008080" stroke-width="1.3" stroke-opacity="0.7" fill="none"/>
<path d="M526.49 879.18H537.49M526.49 898.05H537.49" stroke="#008080" stroke-width="1.7" stroke-opacity="0.9" fill="none"/>
<path d="M612.37 833.96V863.54" stroke="#008080" stroke-width="1.3" stroke-opacity="0.7" fill="none"/>
<path d="M606.87 833.96H617.87M606.87 863.54H617.87" stroke="#008080" stroke-width="1.7" stroke-opacity="0.9" fill="none"/>
<path d="M692.75 796.27V823.51" stroke="#008080" stroke-width="1.3" stroke-opacity="0.7" fill="none"/>
<path d="M687.25 796.27H698.25M687.25 823.51H698.25" stroke="#008080" stroke-width="1.7" stroke-opacity="0.9" fill="none"/>
<path d="M773.12 763.94V787.16" stroke="#008080" stroke-width="1.3" stroke-opacity="0.7" fill="none"/>
<path d="M767.62 763.94H778.62M767.62 787.16H778.62" stroke="#008080" stroke-width="1.7" stroke-opacity="0.9" fill="none"/>
<path d="M853.50 739.99V762.20" stroke="#008080" stroke-width="1.3" stroke-opacity="0.7" fill="none"/>
<path d="M848.00 739.99H859.00M848.00 762.20H859.00" stroke="#008080" stroke-width="1.7" stroke-opacity="0.9" fill="none"/>
<polygon points="122.80,1182.90 137.40,1182.90 130.10,1195.50" fill="#008080"/>
<polygon points="203.18,1103.34 217.78,1103.34 210.48,1115.94" fill="#008080"/>
<polygon points="283.56,1041.19 298.16,1041.19 290.86,1053.80" fill="#008080"/>
<polygon points="363.93,984.41 378.53,984.41 371.23,997.01" fill="#008080"/>
<polygon points="444.31,929.97 458.91,929.97 451.61,942.57" fill="#008080"/>
<polygon points="524.69,884.41 539.29,884.41 531.99,897.01" fill="#008080"/>
<polygon points="605.07,844.55 619.67,844.55 612.37,857.15" fill="#008080"/>
<polygon points="685.45,805.69 700.05,805.69 692.75,818.29" fill="#008080"/>
<polygon points="765.82,771.35 780.42,771.35 773.12,783.95" fill="#008080"/>
<polygon points="846.20,746.90 860.80,746.90 853.50,759.50" fill="#008080"/>
<polyline points="130.10,1187.10 210.48,1077.39 290.86,1007.37 371.23,942.55 451.61,884.59 531.99,845.06 612.37,798.83 692.75,772.37 773.12,739.54 853.50,716.26" fill="none" stroke="#f22cf2" stroke-width="1.85" stroke-linejoin="round"/>
<path d="M210.48 1067.34V1087.44" stroke="#ff00ff" stroke-width="1.3" stroke-opacity="0.7" fill="none"/>
<path d="M204.98 1067.34H215.98M204.98 1087.44H215.98" stroke="#ff00ff" stroke-width="1.7" stroke-opacity="0.9" fill="none"/>
<path d="M290.86 993.97V1020.77" stroke="#ff00ff" stroke-width="1.3" stroke-opacity="0.7" fill="none"/>
<path d="M285.36 993.97H296.36M285.36 1020.77H296.36" stroke="#ff00ff" stroke-width="1.7" stroke-opacity="0.9" fill="none"/>
<path d="M371.23 930.99V954.11" stroke="#ff00ff" stroke-width="1.3" stroke-opacity="0.7" fill="none"/>
<path d="M365.73 930.99H376.73M365.73 954.11H376.73" stroke="#ff00ff" stroke-width="1.7" stroke-opacity="0.9" fill="none"/>
<path d="M451.61 874.54V894.64" stroke="#ff00ff" stroke-width="1.3" stroke-opacity="0.7" fill="none"/>
<path d="M446.11 874.54H457.11M446.11 894.64H457.11" stroke="#ff00ff" stroke-width="1.7" stroke-opacity="0.9" fill="none"/>
<path d="M531.99 837.02V853.11" stroke="#ff00ff" stroke-width="1.3" stroke-opacity="0.7" fill="none"/>
<path d="M526.49 837.02H537.49M526.49 853.11H537.49" stroke="#ff00ff" stroke-width="1.7" stroke-opacity="0.9" fill="none"/>
<path d="M612.37 788.78V808.88" stroke="#ff00ff" stroke-width="1.3" stroke-opacity="0.7" fill="none"/>
<path d="M606.87 788.78H617.87M606.87 808.88H617.87" stroke="#ff00ff" stroke-width="1.7" stroke-opacity="0.9" fill="none"/>
<path d="M692.75 761.65V783.09" stroke="#ff00ff" stroke-width="1.3" stroke-opacity="0.7" fill="none"/>
<path d="M687.25 761.65H698.25M687.25 783.09H698.25" stroke="#ff00ff" stroke-width="1.7" stroke-opacity="0.9" fill="none"/>
<path d="M773.12 727.98V751.10" stroke="#ff00ff" stroke-width="1.3" stroke-opacity="0.7" fill="none"/>
<path d="M767.62 727.98H778.62M767.62 751.10H778.62" stroke="#ff00ff" stroke-width="1.7" stroke-opacity="0.9" fill="none"/>
<path d="M853.50 703.19V729.32" stroke="#ff00ff" stroke-width="1.3" stroke-opacity="0.7" fill="none"/>
<path d="M848.00 703.19H859.00M848.00 729.32H859.00" stroke="#ff00ff" stroke-width="1.7" stroke-opacity="0.9" fill="none"/>
<polygon points="134.30,1180.00 134.30,1194.20 121.70,1187.10" fill="#ff00ff"/>
<polygon points="214.68,1070.29 214.68,1084.49 202.08,1077.39" fill="#ff00ff"/>
<polygon points="295.06,1000.27 295.06,1014.47 282.46,1007.37" fill="#ff00ff"/>
<polygon points="375.43,935.45 375.43,949.65 362.83,942.55" fill="#ff00ff"/>
<polygon points="455.81,877.49 455.81,891.69 443.21,884.59" fill="#ff00ff"/>
<polygon points="536.19,837.96 536.19,852.16 523.59,845.06" fill="#ff00ff"/>
<polygon points="616.57,791.73 616.57,805.93 603.97,798.83" fill="#ff00ff"/>
<polygon points="696.95,765.27 696.95,779.47 684.35,772.37" fill="#ff00ff"/>
<polygon points="777.32,732.44 777.32,746.64 764.72,739.54" fill="#ff00ff"/>
<polygon points="857.70,709.16 857.70,723.36 845.10,716.26" fill="#ff00ff"/>
<polyline points="130.10,1187.10 210.48,1071.86 290.86,986.94 371.23,915.75 451.61,850.59 531.99,803.19 612.37,767.01 692.75,733.17 773.12,703.69 853.50,684.77" fill="none" stroke="#2222e6" stroke-width="1.85" stroke-linejoin="round"/>
<path d="M210.48 1058.34V1085.38" stroke="#0000ff" stroke-width="1.3" stroke-opacity="0.7" fill="none"/>
<path d="M204.98 1058.34H215.98M204.98 1085.38H215.98" stroke="#0000ff" stroke-width="1.7" stroke-opacity="0.9" fill="none"/>
<path d="M290.86 974.76V999.11" stroke="#0000ff" stroke-width="1.3" stroke-opacity="0.7" fill="none"/>
<path d="M285.36 974.76H296.36M285.36 999.11H296.36" stroke="#0000ff" stroke-width="1.7" stroke-opacity="0.9" fill="none"/>
<path d="M371.23 906.59V924.91" stroke="#0000ff" stroke-width="1.3" stroke-opacity="0.7" fill="none"/>
<path d="M365.73 906.59H376.73M365.73 924.91H376.73" stroke="#0000ff" stroke-width="1.7" stroke-opacity="0.9" fill="none"/>
<path d="M451.61 840.09V861.09" stroke="#0000ff" stroke-width="1.3" stroke-opacity="0.7" fill="none"/>
<path d="M446.11 840.09H457.11M446.11 861.09H457.11" stroke="#0000ff" stroke-width="1.7" stroke-opacity="0.9" fill="none"/>
<path d="M531.99 794.36V812.02" stroke="#0000ff" stroke-width="1.3" stroke-opacity="0.7" fill="none"/>
<path d="M526.49 794.36H537.49M526.49 812.02H537.49" stroke="#0000ff" stroke-width="1.7" stroke-opacity="0.9" fill="none"/>
<path d="M612.37 759.36V774.66" stroke="#0000ff" stroke-width="1.3" stroke-opacity="0.7" fill="none"/>
<path d="M606.87 759.36H617.87M606.87 774.66H617.87" stroke="#0000ff" stroke-width="1.7" stroke-opacity="0.9" fill="none"/>
<path d="M692.75 725.52V740.83" stroke="#0000ff" stroke-width="1.3" stroke-opacity="0.7" fill="none"/>
<path d="M687.25 725.52H698.25M687.25 740.83H698.25" stroke="#0000ff" stroke-width="1.7" stroke-opacity="0.9" fill="none"/>
<path d="M773.12 695.71V711.68" stroke="#0000ff" stroke-width="1.3" stroke-opacity="0.7" fill="none"/>
<path d="M767.62 695.71H778.62M767.62 711.68H778.62" stroke="#0000ff" stroke-width="1.7" stroke-opacity="0.9" fill="none"/>
<path d="M853.50 678.45V691.08" stroke="#0000ff" stroke-width="1.3" stroke-opacity="0.7" fill="none"/>
<path d="M848.00 678.45H859.00M848.00 691.08H859.00" stroke="#0000ff" stroke-width="1.7" stroke-opacity="0.9" fill="none"/>
<polygon points="122.80,1191.30 137.40,1191.30 130.10,1178.70" fill="#0000ff"/>
<polygon points="203.18,1076.06 217.78,1076.06 210.48,1063.46" fill="#0000ff"/>
<polygon points="283.56,991.14 298.16,991.14 290.86,978.54" fill="#0000ff"/>
<polygon points="363.93,919.95 378.53,919.95 371.23,907.35" fill="#0000ff"/>
<polygon points="444.31,854.79 458.91,854.79 451.61,842.19" fill="#0000ff"/>
<polygon points="524.69,807.39 539.29,807.39 531.99,794.79" fill="#0000ff"/>
<polygon points="605.07,771.21 619.67,771.21 612.37,758.61" fill="#0000ff"/>
<polygon points="685.45,737.38 700.05,737.38 692.75,724.77" fill="#0000ff"/>
<polygon points="765.82,707.89 780.42,707.89 773.12,695.29" fill="#0000ff"/>
<polygon points="846.20,688.97 860.80,688.97 853.50,676.37" fill="#0000ff"/>
<polyline points="130.10,1187.10 210.48,1105.19 290.86,1033.67 371.23,972.20 451.61,913.91 531.99,873.04 612.37,832.67 692.75,794.65 773.12,767.18 853.50,741.38" fill="none" stroke="#1c1c86" stroke-width="1.85" stroke-linejoin="round"/>
<path d="M210.48 1093.63V1116.75" stroke="#000080" stroke-width="1.3" stroke-opacity="0.7" fill="none"/>
<path d="M204.98 1093.63H215.98M204.98 1116.75H215.98" stroke="#000080" stroke-width="1.7" stroke-opacity="0.9" fill="none"/>
<path d="M290.86 1022.11V1045.23" stroke="#000080" stroke-width="1.3" stroke-opacity="0.7" fill="none"/>
<path d="M285.36 1022.11H296.36M285.36 1045.23H296.36" stroke="#000080" stroke-width="1.7" stroke-opacity="0.9" fill="none"/>
<path d="M371.23 963.32V981.07" stroke="#000080" stroke-width="1.3" stroke-opacity="0.7" fill="none"/>
<path d="M365.73 963.32H376.73M365.73 981.07H376.73" stroke="#000080" stroke-width="1.7" stroke-opacity="0.9" fill="none"/>
<path d="M451.61 902.68V925.13" stroke="#000080" stroke-width="1.3" stroke-opacity="0.7" fill="none"/>
<path d="M446.11 902.68H457.11M446.11 925.13H457.11" stroke="#000080" stroke-width="1.7" stroke-opacity="0.9" fill="none"/>
<path d="M531.99 859.30V886.77" stroke="#000080" stroke-width="1.3" stroke-opacity="0.7" fill="none"/>
<path d="M526.49 859.30H537.49M526.49 886.77H537.49" stroke="#000080" stroke-width="1.7" stroke-opacity="0.9" fill="none"/>
<path d="M612.37 823.29V842.05" stroke="#000080" stroke-width="1.3" stroke-opacity="0.7" fill="none"/>
<path d="M606.87 823.29H617.87M606.87 842.05H617.87" stroke="#000080" stroke-width="1.7" stroke-opacity="0.9" fill="none"/>
<path d="M692.75 783.93V805.37" stroke="#000080" stroke-width="1.3" stroke-opacity="0.7" fill="none"/>
<path d="M687.25 783.93H698.25M687.25 805.37H698.25" stroke="#000080" stroke-width="1.7" stroke-opacity="0.9" fill="none"/>
<path d="M773.12 753.11V781.25" stroke="#000080" stroke-width="1.3" stroke-opacity="0.7" fill="none"/>
<path d="M767.62 753.11H778.62M767.62 781.25H778.62" stroke="#000080" stroke-width="1.7" stroke-opacity="0.9" fill="none"/>
<path d="M853.50 734.68V748.08" stroke="#000080" stroke-width="1.3" stroke-opacity="0.7" fill="none"/>
<path d="M848.00 734.68H859.00M848.00 748.08H859.00" stroke="#000080" stroke-width="1.7" stroke-opacity="0.9" fill="none"/>
<polygon points="130.10,1180.30 136.90,1187.10 130.10,1193.90 123.30,1187.10" fill="#ffffff" stroke="#000080" stroke-width="1.7"/>
<polygon points="210.48,1098.39 217.28,1105.19 210.48,1111.99 203.68,1105.19" fill="#ffffff" stroke="#000080" stroke-width="1.7"/>
<polygon points="290.86,1026.87 297.66,1033.67 290.86,1040.47 284.06,1033.67" fill="#ffffff" stroke="#000080" stroke-width="1.7"/>
<polygon points="371.23,965.40 378.03,972.20 371.23,979.00 364.43,972.20" fill="#ffffff" stroke="#000080" stroke-width="1.7"/>
<polygon points="451.61,907.11 458.41,913.91 451.61,920.71 444.81,913.91" fill="#ffffff" stroke="#000080" stroke-width="1.7"/>
<polygon points="531.99,866.24 538.79,873.04 531.99,879.84 525.19,873.04" fill="#ffffff" stroke="#000080" stroke-width="1.7"/>
<polygon points="612.37,825.87 619.17,832.67 612.37,839.47 605.57,832.67" fill="#ffffff" stroke="#000080" stroke-width="1.7"/>
<polygon points="692.75,787.85 699.55,794.65 692.75,801.45 685.95,794.65" fill="#ffffff" stroke="#000080" stroke-width="1.7"/>
<polygon points="773.12,760.38 779.92,767.18 773.12,773.98 766.32,767.18" fill="#ffffff" stroke="#000080" stroke-width="1.7"/>
<polygon points="853.50,734.58 860.30,741.38 853.50,748.18 846.70,741.38" fill="#ffffff" stroke="#000080" stroke-width="1.7"/>
<line x1="133.10" y1="667.90" x2="198.80" y2="667.90" stroke="#141414" stroke-width="1.8"/>
<rect x="160.75" y="662.70" width="10.40" height="10.40" fill="#000000"/>
<g transform="translate(207.00,677.70) scale(1,1.07)"><text x="0.000" y="0" class="lg">5 min</text></g>
<line x1="133.10" y1="703.90" x2="198.80" y2="703.90" stroke="#e42a2a" stroke-width="1.8"/>
<circle cx="165.95" cy="703.90" r="6.00" fill="#ff0000"/>
<g transform="translate(207.00,713.70) scale(1,1.07)"><text x="0.000" y="0" class="lg"> 0 min</text><path transform="translate(0.000,0) scale(0.01392,-0.01392)" d="M763 0L583 0L583 1147Q518 1085 412 1023Q306 961 223 930L223 1104Q373 1175 485 1276Q597 1377 644 1409L763 1409Z" fill="#000" stroke="#fff" stroke-width="25.2"/></g>
<line x1="133.10" y1="739.90" x2="198.80" y2="739.90" stroke="#148080" stroke-width="1.8"/>
<polygon points="158.65,735.70 173.25,735.70 165.95,748.30" fill="#008080"/>
<g transform="translate(207.00,749.70) scale(1,1.07)"><text x="0.000" y="0" class="lg">20 min</text></g>
<line x1="133.10" y1="775.90" x2="198.80" y2="775.90" stroke="#f22cf2" stroke-width="1.8"/>
<polygon points="170.15,768.80 170.15,783.00 157.55,775.90" fill="#ff00ff"/>
<g transform="translate(207.00,785.70) scale(1,1.07)"><text x="0.000" y="0" class="lg">30 min</text></g>
<line x1="133.10" y1="811.90" x2="198.80" y2="811.90" stroke="#2222e6" stroke-width="1.8"/>
<polygon points="158.65,816.10 173.25,816.10 165.95,803.50" fill="#0000ff"/>
<g transform="translate(207.00,821.70) scale(1,1.07)"><text x="0.000" y="0" class="lg">40 min</text></g>
<line x1="133.10" y1="847.90" x2="198.80" y2="847.90" stroke="#1c1c86" stroke-width="1.8"/>
<polygon points="165.95,841.10 172.75,847.90 165.95,854.70 159.15,847.90" fill="#ffffff" stroke="#000080" stroke-width="1.7"/>
<g transform="translate(207.00,857.70) scale(1,1.07)"><text x="0.000" y="0" class="lg">50 min</text></g>
</svg>
</body></html>
